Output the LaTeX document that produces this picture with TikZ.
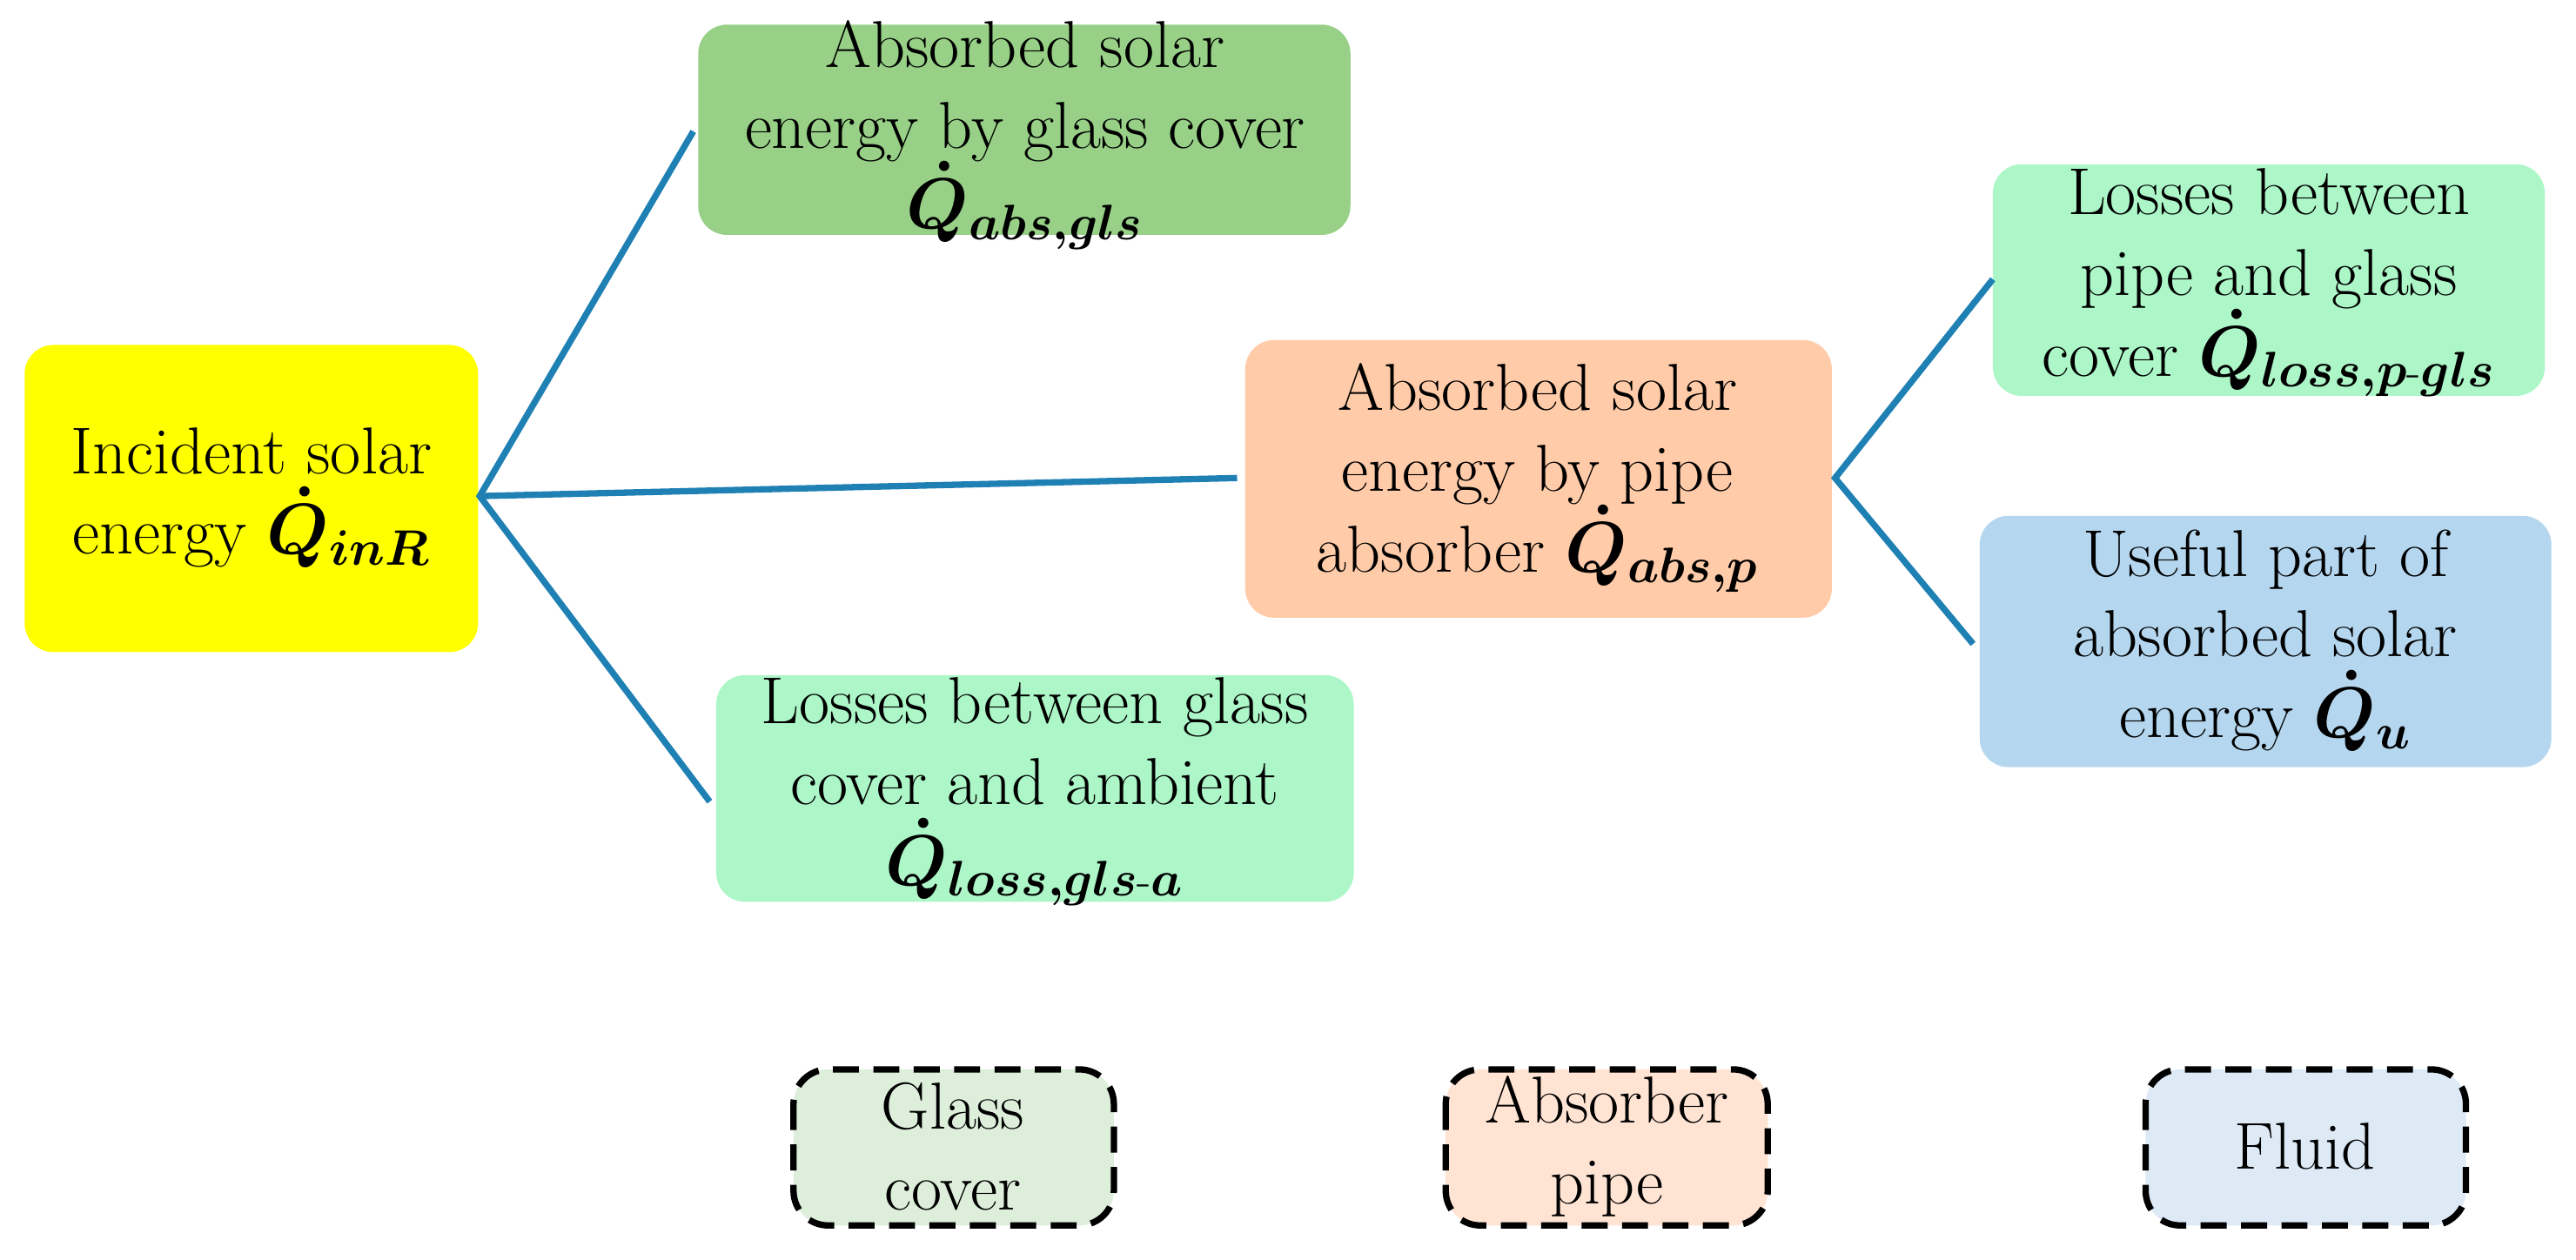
\documentclass[tikz,border=0pt]{standalone}
\usepackage{amsmath,bm}
\begin{document}
\begin{tikzpicture}[x=0.02cm,y=-0.02cm,
box/.style={rounded corners=10pt,draw=none,align=center,font=\fontsize{23}{28}\selectfont,inner sep=0pt},
leg/.style={box,draw=black,line width=2.2pt,dash pattern=on 9pt off 5pt,rounded corners=12pt},
con/.style={draw={rgb,255:red,31;green,128;blue,180},line width=2.2pt}]
\useasboundingbox (0,0) rectangle (1568,767);
\definecolor{yel}{RGB}{255,255,0}
\definecolor{dg}{RGB}{151,208,134}
\definecolor{or}{RGB}{255,203,168}
\definecolor{lg}{RGB}{172,246,200}
\definecolor{bl}{RGB}{180,214,238}
\newcommand{\Qd}[1]{$\bm{\dot{Q}}_{\bm{#1}}$}
\path[box,fill=yel] (15,210) rectangle (291,397);
\path[box,fill=dg] (425,15) rectangle (822,143);
\path[box,fill=or] (758,207) rectangle (1115,376);
\path[box,fill=lg] (1213,100) rectangle (1549,241);
\path[box,fill=bl] (1205,314) rectangle (1553,467);
\path[box,fill=lg] (436,411) rectangle (824,549);
\node[box] (a) at (153,303) {Incident solar\\energy \Qd{inR}};
\node[box] (b) at (624,82) {Absorbed solar\\energy by glass cover\\\Qd{abs,gls}};
\node[box] (c) at (936,291) {Absorbed solar\\energy by pipe\\absorber \Qd{abs,p}};
\node[box] (d) at (1381,172) {Losses between\\pipe and glass\\cover \Qd{loss,p\text{-}gls}};
\node[box] (e) at (1379,390) {Useful part of\\absorbed solar\\energy \Qd{u}};
\node[box] (f) at (630,482) {Losses between glass\\cover and ambient\\\Qd{loss,gls\text{-}a}};
\coordinate (a1) at (292,302);
\coordinate (b1) at (422,80);
\coordinate (f1) at (432,488);
\coordinate (c1) at (753,291);
\coordinate (c2) at (1117,291);
\coordinate (d1) at (1213,170);
\coordinate (e1) at (1201,392);
\draw[con] (b1) -- (a1) -- (f1);
\draw[con] (a1) -- (c1);
\draw[con] (d1) -- (c2) -- (e1);
\path[leg,fill={rgb,255:red,221;green,239;blue,219}] (483,651) rectangle (678,746);
\path[leg,fill={rgb,255:red,255;green,228;blue,212}] (880,651) rectangle (1076,746);
\path[leg,fill={rgb,255:red,221;green,234;blue,246}] (1306,651) rectangle (1501,746);
\node[box] (g) at (580,698) {Glass\\cover};
\node[box] (h) at (978,698) {Absorber\\pipe};
\node[box] (i) at (1403,698) {Fluid};
\end{tikzpicture}
\end{document}
